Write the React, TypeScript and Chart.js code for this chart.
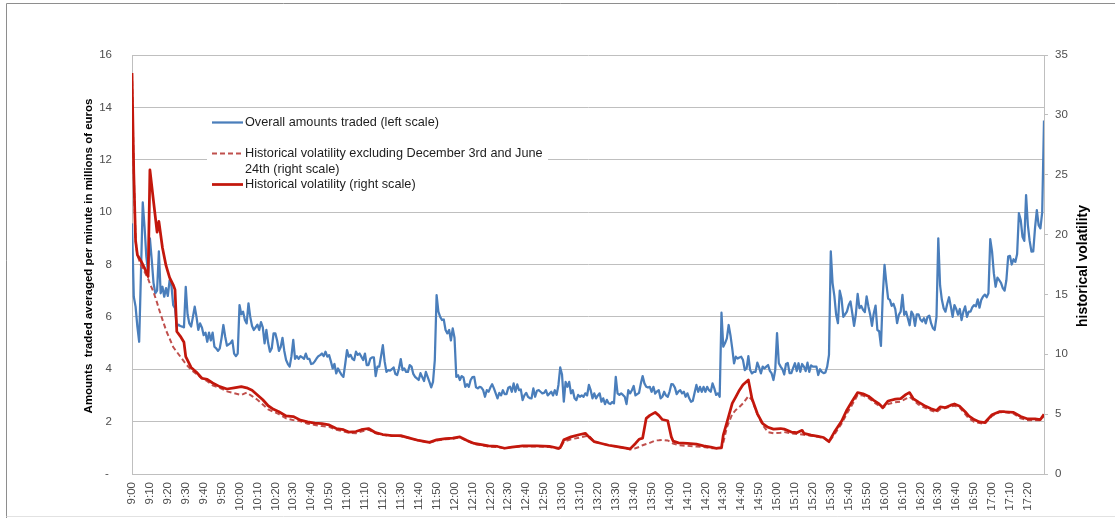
import React, { useEffect, useRef } from "react";
import { Chart, registerables } from "chart.js";

Chart.register(...registerables);

// Minutes after 9:00 (one value per minute, 9:00 .. 17:29)
const amountsTraded: number[] = [
  9.57, 6.77, 6.39, 5.63, 5.05, 7.66, 10.37, 9.44, 8.3, 7.7,
  9.0, 8.2, 7.3, 6.9, 7.0, 8.5, 6.9, 7.15, 6.77, 7.1,
  6.8, 7.4, 7.2, 6.45, 6.33, 5.63, 5.7, 5.65, 5.63, 5.6,
  7.15, 6.1, 5.75, 5.63, 6.0, 6.39, 6.0, 5.5, 5.75, 5.6,
  5.3, 5.4, 5.05, 5.4, 5.1, 5.4, 4.86, 4.8, 4.7, 4.8,
  5.2, 5.69, 5.25, 4.9, 4.95, 5.0, 5.1, 4.6, 4.5, 4.6,
  6.45, 6.1, 6.2, 5.88, 5.75, 6.52, 6.0, 5.65, 5.5, 5.6,
  5.7, 5.5, 5.8, 5.6, 4.99, 5.5, 5.0, 4.67, 4.8, 5.37,
  5.37, 5.1, 4.7, 4.85, 5.2, 4.7, 4.35, 4.2, 4.1, 4.5,
  5.12, 4.4, 4.5, 4.4, 4.5, 4.45, 4.4, 4.6, 4.4, 4.4,
  4.2, 4.22, 4.3, 4.41, 4.5, 4.54, 4.6, 4.5, 4.67, 4.48,
  4.54, 4.3, 4.03, 4.2, 3.84, 4.03, 3.9, 3.78, 3.71, 4.2,
  4.73, 4.48, 4.55, 4.4, 4.35, 4.67, 4.55, 4.6, 4.48, 4.35,
  4.6, 4.16, 4.16, 4.4, 4.45, 4.45, 3.74, 4.1, 4.1, 4.5,
  4.92, 4.3, 3.9, 3.97, 3.95, 4.0, 4.07, 3.82, 3.78, 4.03,
  4.39, 3.97, 4.03, 3.9, 3.9, 4.16, 4.1, 3.82, 3.71, 3.65,
  3.59, 3.85, 3.7, 3.55, 3.9, 3.71, 3.52, 3.31, 3.52, 4.35,
  6.83, 6.2, 6.0, 5.88, 5.9, 5.5, 5.37, 5.5, 5.1, 5.56,
  5.2, 3.71, 3.77, 3.59, 3.74, 3.69, 3.33, 3.43, 3.33, 3.59,
  3.7, 3.71, 3.31, 3.27, 3.33, 3.3, 3.2, 2.95, 3.2, 3.14,
  3.3, 3.43, 3.27, 3.08, 2.89, 3.1, 3.0, 3.2, 3.05, 3.05,
  3.29, 3.33, 3.14, 3.46, 3.14, 3.42, 3.2, 3.23, 2.82, 3.0,
  3.1, 2.95, 2.9, 2.89, 3.27, 2.95, 3.18, 3.2, 3.14, 3.08,
  3.1, 3.2, 3.0, 3.07, 3.14, 3.0, 3.2, 3.02, 3.4, 4.07,
  3.8, 2.76, 3.52, 3.33, 3.52, 3.08, 3.2, 2.89, 2.82, 3.02,
  2.95, 3.0, 2.95, 3.08, 3.0, 3.4, 3.2, 2.89, 3.08, 2.89,
  3.0, 3.08, 2.76, 2.89, 2.67, 2.83, 2.7, 2.67, 2.75, 2.7,
  3.71, 3.08, 3.02, 3.08, 3.02, 2.95, 2.67, 3.2, 3.08, 3.2,
  3.36, 3.0, 3.05, 3.1, 3.46, 3.74, 3.46, 3.33, 3.3, 3.33,
  3.14, 3.33, 3.07, 3.15, 3.2, 2.89, 2.95, 3.14, 3.0, 2.95,
  3.14, 3.43, 3.42, 3.3, 3.05, 3.15, 3.2, 3.08, 3.14, 2.95,
  3.08, 2.89, 2.76, 2.8, 3.1, 3.4, 3.14, 3.33, 3.14, 3.33,
  3.14, 3.33, 3.2, 3.14, 3.46, 3.27, 3.02, 3.08, 2.95, 6.16,
  4.86, 5.0, 5.18, 5.69, 5.3, 4.8, 4.22, 4.48, 4.41, 4.45,
  4.48, 4.35, 3.97, 4.03, 4.5, 3.97, 3.84, 3.9, 3.9, 4.25,
  4.07, 3.84, 4.1, 4.03, 4.1, 4.16, 3.94, 3.84, 3.59, 3.97,
  5.38, 4.23, 4.1, 4.0, 3.8, 4.2, 4.24, 3.85, 3.85, 4.05,
  4.23, 3.93, 4.23, 3.9, 4.2, 4.1, 3.93, 4.25, 3.9, 4.15,
  4.1, 4.1, 4.1, 3.78, 4.0, 3.9, 3.85, 3.88, 4.1, 4.55,
  8.5, 7.29, 6.8, 6.08, 5.76, 7.0, 6.7, 6.0, 6.1, 6.2,
  6.45, 6.59, 6.14, 5.66, 6.1, 6.88, 6.33, 6.42, 6.27, 6.18,
  6.78, 6.4, 6.08, 5.66, 6.14, 6.43, 5.5, 5.45, 4.89, 6.8,
  7.99, 7.3, 6.7, 6.65, 6.42, 6.5, 6.3, 5.76, 6.08, 6.2,
  6.84, 6.08, 6.2, 5.95, 5.68, 6.2, 6.08, 5.66, 6.1, 6.1,
  5.9, 5.82, 5.95, 5.75, 6.0, 6.05, 5.75, 5.57, 5.5, 6.0,
  9.0, 7.2, 6.65, 6.33, 6.2, 6.5, 6.75, 6.4, 6.0, 6.45,
  6.3, 6.08, 6.3, 5.88, 6.2, 6.4, 6.0, 6.2, 6.2, 6.37,
  6.45, 6.4, 6.67, 6.35, 6.65, 6.78, 6.85, 6.75, 6.9, 8.97,
  8.5, 7.67, 7.15, 7.5, 7.4, 7.3, 7.1, 7.0, 7.4, 8.3,
  8.33, 8.0, 8.2, 8.1, 8.4, 9.96, 9.7, 9.06, 8.9, 10.65,
  9.5, 8.9, 8.49, 8.5, 9.4, 10.08, 9.5, 9.38, 10.0, 13.5,
];

// Volatility read at these minutes after 9:00
const volMinutes: number[] = [
  0, 1, 2, 3, 5, 7, 9, 10, 12, 14, 15, 17, 19, 21, 23, 24, 25, 27, 29, 30,
  33, 36, 39, 42, 45, 49, 53, 57, 61, 64,
  67, 70, 73, 76, 79, 82, 86, 90, 94, 98,
  102, 106, 110, 114, 118, 121, 125, 128, 132, 136,
  140, 145, 150, 155, 160, 166, 170, 175, 179, 183,
  187, 191, 195, 199, 204, 208, 212, 218, 226, 233,
  238, 239, 241, 245, 250, 253, 255, 258, 262, 266,
  270, 274, 278, 281, 283, 285, 287, 289, 292, 294,
  296, 299, 301, 302, 305, 310, 315, 319, 323, 326,
  329, 330, 332, 335, 337, 339, 341, 344, 346, 349,
  352, 355, 358, 362, 364, 368, 371, 374, 375, 379,
  383, 386, 389, 392, 396, 399, 402, 405, 408, 411,
  414, 417, 419, 422, 426, 429, 432, 434, 436, 439,
  443, 446, 449, 451, 454, 457, 459, 462, 465, 467,
  470, 473, 476, 480, 484, 487, 492, 496, 500, 504, 507, 509,
];

const volatilityAll: number[] = [
  33.5, 25.1, 19.5, 18.3, 17.8, 17.2, 16.5, 25.4, 22.8, 20.2, 21.1, 18.9, 17.4, 16.4, 15.8, 15.4, 11.9, 11.5, 11.0, 9.8,
  8.9, 8.5, 8.0, 7.9, 7.6, 7.3, 7.1, 7.2, 7.3, 7.2,
  7.0, 6.6, 6.2, 5.7, 5.4, 5.2, 4.85, 4.8, 4.5, 4.35,
  4.25, 4.2, 4.1, 3.8, 3.7, 3.5, 3.55, 3.7, 3.8, 3.45,
  3.3, 3.2, 3.2, 3.0, 2.8, 2.65, 2.85, 2.95, 3.0, 3.1,
  2.8, 2.55, 2.45, 2.35, 2.3, 2.15, 2.25, 2.35, 2.35, 2.3,
  2.15, 2.2, 2.85, 3.1, 3.3, 3.4, 3.1, 2.7, 2.55, 2.4,
  2.3, 2.2, 2.1, 2.55, 2.9, 3.0, 4.65, 4.9, 5.15, 4.9,
  4.55, 4.45, 3.1, 2.75, 2.6, 2.55, 2.5, 2.35, 2.25, 2.15,
  2.2, 3.25, 4.3, 5.9, 6.45, 7.0, 7.45, 7.85, 6.3, 5.05,
  4.2, 3.9, 3.75, 3.8, 3.75, 3.5, 3.45, 3.65, 3.4, 3.25,
  3.15, 3.05, 2.7, 3.5, 4.4, 5.35, 6.1, 6.8, 6.7, 6.5,
  6.15, 5.85, 5.55, 6.1, 6.25, 6.3, 6.65, 6.8, 6.3, 6.0,
  5.65, 5.45, 5.3, 5.6, 5.55, 5.75, 5.85, 5.65, 5.2, 4.85,
  4.55, 4.35, 4.3, 4.95, 5.2, 5.2, 5.15, 4.8, 4.6, 4.6, 4.55, 5.0,
];

const volatilityExcl: number[] = [
  33.5, 25.1, 19.5, 18.3, 17.4, 16.9, 16.3, 15.9, 15.2, 14.3, 13.8, 12.9, 12.0, 11.3, 10.6, 10.4, 10.2, 9.8, 9.4, 9.2,
  8.7, 8.35, 8.0, 7.75, 7.4, 7.2, 6.9, 6.75, 6.6, 6.8,
  6.5, 6.2, 5.8, 5.4, 5.2, 5.0, 4.65, 4.5, 4.4, 4.2,
  4.1, 4.0, 3.95, 3.7, 3.55, 3.45, 3.4, 3.55, 3.7, 3.4,
  3.25, 3.2, 3.15, 3.0, 2.8, 2.6, 2.8, 2.9, 2.95, 3.05,
  2.75, 2.5, 2.4, 2.3, 2.25, 2.15, 2.25, 2.3, 2.3, 2.25,
  2.1, 2.15, 2.7, 2.9, 3.05, 3.15, 3.2, 2.7, 2.55, 2.4,
  2.3, 2.2, 2.05, 2.15, 2.25, 2.4, 2.5, 2.6, 2.8, 2.82,
  2.85, 2.8, 2.65, 2.55, 2.4, 2.35, 2.3, 2.25, 2.15, 2.15,
  2.15, 2.6, 3.9, 5.0, 5.35, 5.6, 5.9, 6.5, 6.2, 5.0,
  4.1, 3.5, 3.4, 3.45, 3.5, 3.4, 3.35, 3.3, 3.28, 3.2,
  3.1, 3.0, 2.7, 3.3, 4.2, 5.05, 5.8, 6.6, 6.55, 6.35,
  6.0, 5.7, 5.5, 5.85, 6.0, 6.05, 6.3, 6.45, 6.2, 5.8,
  5.5, 5.3, 5.15, 5.4, 5.5, 5.65, 5.7, 5.55, 5.0, 4.65,
  4.35, 4.25, 4.2, 4.85, 5.15, 5.15, 5.05, 4.65, 4.5, 4.5, 4.5, 4.85,
];

const START_HOUR = 9;
const LAST_MINUTE = 509;

const seriesNames = [
  "Overall amounts traded (left scale)",
  "Historical volatility excluding December 3rd and June",
  "24th (right scale)",
  "Historical volatility (right scale)",
];
const leftTitle = "Amounts  traded averaged per minute in millions of euros";
const rightTitle = "historical volatility";

const FONT = "'Liberation Sans', Arial, sans-serif";
const BLUE = "#4a7ebb";
const RED = "#c3170c";
const RED_DASH = "#c0504d";
const GRID = "#bfbfbf";
const TICK = "#4d4d4d";

function fmtTime(m: number): string {
  const h = START_HOUR + Math.floor(m / 60);
  const mm = m % 60;
  return `${h}:${mm < 10 ? "0" : ""}${mm}`;
}

function fitSize(ctx: CanvasRenderingContext2D, text: string, width: number, weight: string): number {
  ctx.font = `${weight} 100px ${FONT}`;
  return (100 * width) / ctx.measureText(text).width;
}

const decorPlugin = {
  id: "decor",
  afterDraw(chart: any) {
    const ctx: CanvasRenderingContext2D = chart.ctx;
    ctx.save();
    // outer frame
    ctx.lineWidth = 1;
    ctx.strokeStyle = "#8e8e8e";
    ctx.beginPath();
    ctx.moveTo(6.5, 518);
    ctx.lineTo(6.5, 3.5);
    ctx.lineTo(1115, 3.5);
    ctx.stroke();
    ctx.strokeStyle = "#e2e2e2";
    ctx.beginPath();
    ctx.moveTo(6.5, 516.5);
    ctx.lineTo(1115, 516.5);
    ctx.stroke();

    // axis titles
    ctx.fillStyle = "#000";
    ctx.textAlign = "center";
    ctx.textBaseline = "middle";
    const ls = fitSize(ctx, leftTitle, 315, "bold");
    ctx.font = `bold ${ls}px ${FONT}`;
    ctx.save();
    ctx.translate(89, 256);
    ctx.rotate(-Math.PI / 2);
    ctx.fillText(leftTitle, 0, 0);
    ctx.restore();
    const rs = fitSize(ctx, rightTitle, 122, "bold");
    ctx.font = `bold ${rs}px ${FONT}`;
    ctx.save();
    ctx.translate(1083, 266);
    ctx.rotate(-Math.PI / 2);
    ctx.fillText(rightTitle, 0, 0);
    ctx.restore();

    // legend box
    ctx.fillStyle = "#fff";
    ctx.fillRect(207, 110, 341, 92);
    const fs = fitSize(ctx, seriesNames[0], 194, "normal");
    ctx.font = `${fs}px ${FONT}`;
    ctx.fillStyle = "#1e1e1e";
    ctx.textAlign = "left";
    ctx.textBaseline = "middle";
    const rows = [122.5, 153.5, 169.5, 184.5];
    seriesNames.forEach((t, i) => ctx.fillText(t, 245, rows[i]));
    ctx.lineCap = "butt";
    ctx.strokeStyle = BLUE;
    ctx.lineWidth = 2.25;
    ctx.beginPath();
    ctx.moveTo(212, rows[0]);
    ctx.lineTo(243, rows[0]);
    ctx.stroke();
    ctx.strokeStyle = RED_DASH;
    ctx.lineWidth = 2;
    ctx.setLineDash([5, 3]);
    ctx.beginPath();
    ctx.moveTo(212, rows[1]);
    ctx.lineTo(243, rows[1]);
    ctx.stroke();
    ctx.setLineDash([]);
    ctx.strokeStyle = RED;
    ctx.lineWidth = 2.75;
    ctx.beginPath();
    ctx.moveTo(212, rows[3]);
    ctx.lineTo(243, rows[3]);
    ctx.stroke();
    ctx.restore();
  },
};

export default function App() {
  const ref = useRef<HTMLCanvasElement>(null);

  useEffect(() => {
    document.body.style.margin = "0";
    document.body.style.overflow = "hidden";
    const canvas = ref.current;
    if (!canvas) return;
    const n = Math.min(volMinutes.length, volatilityAll.length, volatilityExcl.length);
    const tickFont = { family: FONT, size: 11.5 };
    const chart = new Chart(canvas, {
      type: "line",
      data: {
        datasets: [
          {
            label: seriesNames[3],
            data: volMinutes.slice(0, n).map((m, i) => ({ x: m, y: volatilityAll[i] })),
            borderColor: RED,
            borderWidth: 2.75,
            pointRadius: 0,
            tension: 0,
            borderJoinStyle: "round",
            yAxisID: "y1",
            order: 0,
          },
          {
            label: seriesNames[1] + " " + seriesNames[2],
            data: volMinutes.slice(0, n).map((m, i) => ({ x: m, y: volatilityExcl[i] })),
            borderColor: RED_DASH,
            borderWidth: 2,
            borderDash: [5, 3],
            pointRadius: 0,
            tension: 0,
            yAxisID: "y1",
            order: 1,
          },
          {
            label: seriesNames[0],
            data: amountsTraded.map((v, i) => ({ x: i, y: v })),
            borderColor: BLUE,
            borderWidth: 2.25,
            pointRadius: 0,
            tension: 0,
            borderJoinStyle: "round",
            yAxisID: "y",
            order: 2,
          },
        ],
      },
      options: {
        responsive: false,
        animation: false,
        devicePixelRatio: 1,
        events: [],
        layout: { padding: { left: 0, right: 0, top: 55, bottom: 0 } },
        plugins: { legend: { display: false }, tooltip: { enabled: false }, title: { display: false } },
        scales: {
          x: {
            type: "linear",
            min: 0,
            max: LAST_MINUTE,
            afterFit: (s: any) => {
              s.height = 44;
            },
            grid: { display: true, drawOnChartArea: false, drawTicks: false },
            border: { display: true, color: GRID, width: 1 },
            ticks: {
              stepSize: 10,
              autoSkip: false,
              minRotation: 90,
              maxRotation: 90,
              includeBounds: false,
              padding: 8,
              color: TICK,
              font: tickFont,
              callback: (v: any) => (Number(v) % 10 === 0 ? fmtTime(Number(v)) : ""),
            },
          },
          y: {
            type: "linear",
            position: "left",
            min: 0,
            max: 16,
            afterFit: (s: any) => {
              s.width = 132;
            },
            grid: { color: GRID, drawTicks: false, lineWidth: 1 },
            border: { display: true, color: GRID, width: 1 },
            ticks: {
              stepSize: 2,
              padding: 20,
              color: TICK,
              font: tickFont,
              callback: (v: any) => (Number(v) === 0 ? "- " : String(v)),
            },
          },
          y1: {
            type: "linear",
            position: "right",
            min: 0,
            max: 35,
            afterFit: (s: any) => {
              s.width = 71;
            },
            grid: { drawOnChartArea: false, drawTicks: true, tickLength: 4, color: GRID },
            border: { display: true, color: GRID, width: 1 },
            ticks: { stepSize: 5, padding: 7, color: TICK, font: tickFont },
          },
        },
      },
      plugins: [decorPlugin],
    } as any);
    return () => chart.destroy();
  }, []);

  return (
    <div style={{ width: 1115, height: 518, background: "#fff" }}>
      <canvas ref={ref} width={1115} height={518} style={{ display: "block", width: 1115, height: 518 }} />
    </div>
  );
}
